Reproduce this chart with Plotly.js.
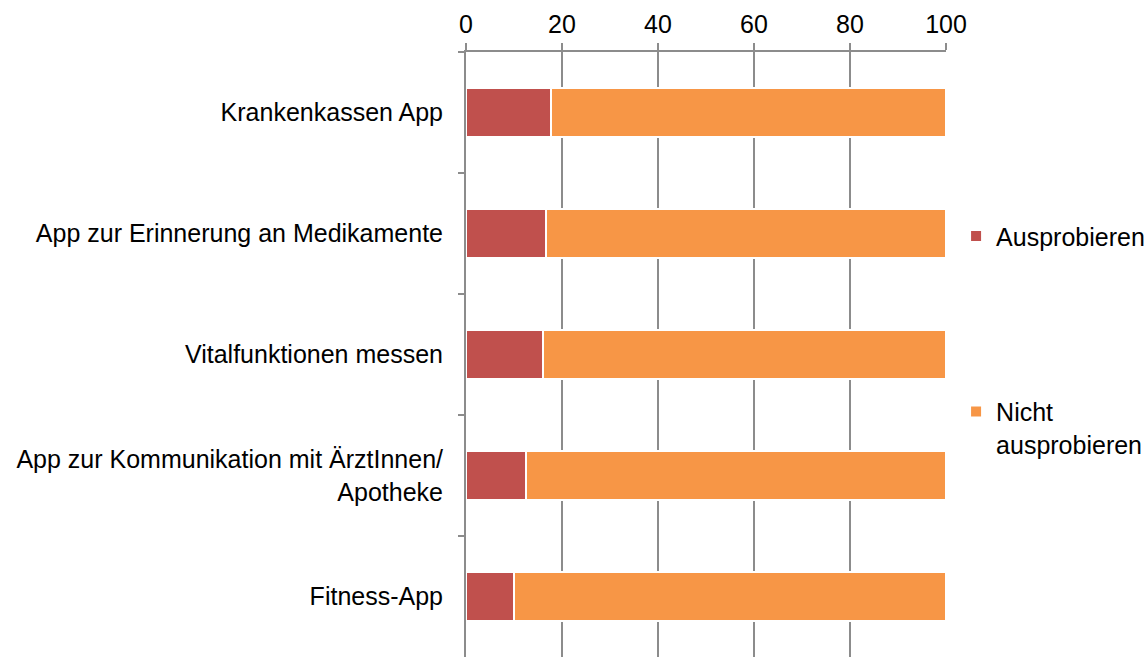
<!DOCTYPE html>
<html><head><meta charset="utf-8">
<script src="https://cdn.plot.ly/plotly-3.0.1.min.js"></script>
<style>body{margin:0;background:#fff}#chart{width:1145px;height:658px}</style>
</head><body><div id="chart"></div>
<script>
const categories = ["Krankenkassen App", "App zur Erinnerung an Medikamente", "Vitalfunktionen messen", "App zur Kommunikation mit ÄrztInnen/<br>Apotheke", "Fitness-App"];
const ausprobieren = [17.8, 16.7, 16.1, 12.4, 9.9];
const nichtAusprobieren = ausprobieren.map(v => 100 - v);
const seriesNames = ["Ausprobieren", "Nicht<br>ausprobieren"];
const xTicks = [0, 20, 40, 60, 80, 100];

const font = {family: "Liberation Sans, Arial, sans-serif", size: 25, color: "#000"};
const traces = [
  {type: "bar", orientation: "h", y: categories, x: ausprobieren, name: seriesNames[0],
   marker: {color: "#c0504d", line: {color: "#fff", width: 2}}, legend: "legend"},
  {type: "bar", orientation: "h", y: categories, x: nichtAusprobieren, name: seriesNames[1],
   marker: {color: "#f79646", line: {color: "#fff", width: 2}}, legend: "legend2"}
];
const layout = {
  width: 1145, height: 658,
  margin: {l: 466, r: 199, t: 52, b: 1, autoexpand: false},
  barmode: "stack", bargap: 0.6,
  font: font,
  paper_bgcolor: "#fff", plot_bgcolor: "#fff",
  xaxis: {side: "top", range: [0, 100], tickvals: xTicks, ticktext: xTicks.map(String),
    showgrid: true, gridcolor: "#8c8c8c", gridwidth: 2, zeroline: false,
    showline: true, linecolor: "#8c8c8c", linewidth: 2,
    ticks: "outside", ticklen: 7, tickwidth: 2, tickcolor: "#8c8c8c", tickfont: font, fixedrange: true},
  yaxis: {type: "category", autorange: "reversed", showline: true, linecolor: "#8c8c8c", linewidth: 2,
    ticks: "outside", tickson: "boundaries", ticklen: 6, tickwidth: 2, tickcolor: "#8c8c8c",
    showgrid: false, tickfont: font, ticklabelstandoff: 16},
  legend: {xref: "container", yref: "container", x: 0.835, y: 0.641, xanchor: "left", yanchor: "middle", font: font, bgcolor: "rgba(0,0,0,0)"},
  legend2: {xref: "container", yref: "container", x: 0.835, y: 0.35, xanchor: "left", yanchor: "middle", valign: "top", font: font, bgcolor: "rgba(0,0,0,0)"},
  showlegend: true
};
Plotly.newPlot("chart", traces, layout, {displayModeBar: false, staticPlot: true});
</script></body></html>
